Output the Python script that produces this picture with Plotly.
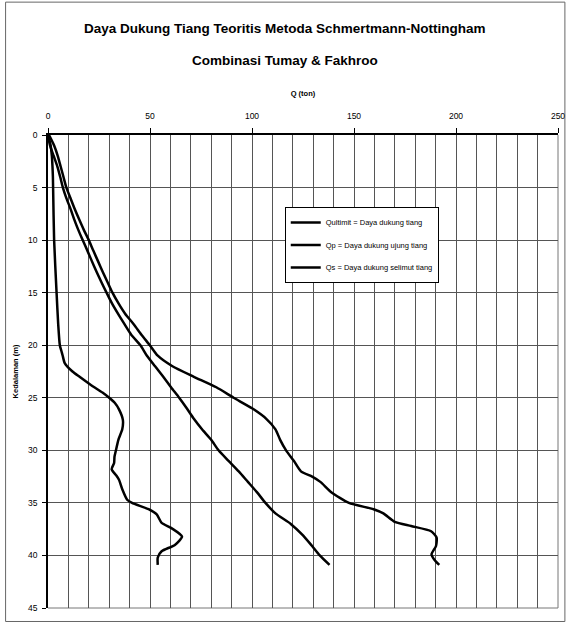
import plotly.graph_objects as go

# ---- data ----
qult_depth = [0, 1, 2, 3, 4, 5, 6, 7, 8, 9, 10, 11, 12, 13, 14, 15, 16, 17, 18, 19, 20, 21, 22, 23, 24, 25,
              26, 27, 28, 29, 30, 31, 32, 32.5, 33, 34, 35, 35.6, 36, 36.8, 37.2, 37.7, 38.3, 39.1, 39.9, 40.4, 40.9]
qult_val = [0.5, 3.0, 4.8, 6.2, 7.6, 9.0, 11.0, 13.0, 15.2, 17.5, 20.0, 22.2, 24.5, 26.8, 29.2, 31.6, 34.5, 37.8,
            42.0, 45.8, 49.9, 53.8, 61.0, 71.5, 82.5, 91.0, 100.0, 107.0, 111.5, 113.8, 116.7, 120.5, 124.0, 129.5,
            133.5, 139.0, 147.5, 159.6, 164.4, 170.0, 178.0, 187.8, 190.5, 190.2, 188.0, 189.4, 191.8]

qs_depth = [0, 1, 2, 3, 4, 5, 6, 7, 8, 9, 10, 11, 12, 13, 14, 15, 16, 17, 18, 19, 20, 21, 22, 23, 24, 25,
            26, 27, 28, 29, 30, 31, 32, 33, 34, 35, 36, 37, 38, 39, 40, 40.9]
qs_val = [0, 1.0, 2.8, 4.6, 6.0, 7.3, 9.0, 11.0, 12.8, 14.8, 17.0, 19.3, 21.5, 23.8, 26.2, 28.7, 31.3, 34.3,
          37.5, 40.8, 45.3, 48.5, 52.5, 56.5, 60.3, 64.3, 68.0, 71.5, 75.5, 80.0, 83.6, 88.5, 93.5, 98.0, 102.5,
          106.6, 111.5, 119.0, 124.5, 129.0, 133.2, 138.0]

qp_depth = [0, 0.5, 1, 2, 3, 4, 5, 10, 15, 18, 20, 20.5, 21, 21.7, 22.5, 23.0, 23.9, 24.5, 25.0, 25.5, 26.1,
            27.1, 28.0, 29.0, 30.0, 30.6, 31.2, 31.8, 32.4, 32.8, 33.7, 34.7, 35.0, 35.6, 36.1, 36.9, 37.4, 38.2,
            39.0, 39.6, 40.2, 40.9]
qp_val = [0, 0.7, 1.3, 1.9, 2.2, 2.4, 2.5, 3.0, 4.2, 5.0, 5.8, 6.5, 7.2, 8.2, 12.0, 15.5, 21.9, 26.7, 30.0,
          32.8, 34.8, 36.7, 36.4, 34.5, 33.3, 32.6, 32.4, 31.2, 33.5, 34.8, 36.4, 38.8, 41.2, 49.3, 53.3, 55.7,
          60.5, 65.7, 62.2, 55.7, 53.8, 53.8]

names = ["Qultimit = Daya dukung tiang", "Qp = Daya dukung ujung tiang", "Qs = Daya dukung selimut tiang"]

title1 = "Daya Dukung Tiang Teoritis Metoda Schmertmann-Nottingham"
title2 = "Combinasi Tumay & Fakhroo"
x_title = "Q (ton)"
y_title = "Kedalaman (m)"

FONT = "Liberation Sans, Arial, sans-serif"

fig = go.Figure()
for i, (xs, ys) in enumerate([(qult_val, qult_depth), (qp_val, qp_depth), (qs_val, qs_depth)]):
    fig.add_trace(go.Scatter(
        x=xs, y=ys, mode="lines", name=names[i], legendgroup=str(i),
        line=dict(color="black", width=2.5, shape="spline", smoothing=0.6),
    ))

W, H = 574, 623
L, R, T, B = 48, 9, 135, 14.5
pw, ph = W - L - R, H - T - B

def px(xp):
    return (xp - L) / pw

def py(yp):
    return (H - B - yp) / ph

fig.update_layout(
    width=W, height=H,
    margin=dict(l=L, r=R, t=T, b=B),
    paper_bgcolor="white", plot_bgcolor="white",
    font=dict(family=FONT, color="black", size=8.5),
    showlegend=True,
    legend=dict(
        x=px(288), y=py(207), xanchor="left", yanchor="top",
        bgcolor="white", bordercolor="black", borderwidth=1,
        font=dict(family=FONT, size=7.5, color="black"),
        tracegroupgap=3.5, itemwidth=30,
    ),
    xaxis=dict(
        side="top", range=[0, 250], dtick=50, tick0=0,
        showgrid=True, gridcolor="#555", gridwidth=1,
        minor=dict(dtick=10, showgrid=True, gridcolor="#555", gridwidth=1),
        showline=True, linecolor="black", linewidth=1.5,
        ticks="outside", ticklen=5, tickcolor="black",
        ticklabelstandoff=6,
        zeroline=False,
        title=dict(text="<b>" + x_title + "</b>", font=dict(size=7.5, family=FONT), standoff=13),
        tickfont=dict(size=8.5, family=FONT),
    ),
    yaxis=dict(
        range=[45, 0], dtick=5, tick0=0,
        showgrid=True, gridcolor="#555", gridwidth=1,
        showline=True, linecolor="black", linewidth=1.5,
        ticks="outside", ticklen=4, tickcolor="black",
        ticklabelstandoff=3,
        zeroline=False,
        title=dict(text="<b>" + y_title + "</b>", font=dict(size=7.5, family=FONT), standoff=8),
        tickfont=dict(size=8.5, family=FONT),
    ),
    annotations=[
        dict(text="<b>" + title1 + "</b>", xref="paper", yref="paper", x=px(288), y=py(28),
             xanchor="center", yanchor="middle", showarrow=False, font=dict(size=13.5, family=FONT)),
        dict(text="<b>" + title2 + "</b>", xref="paper", yref="paper", x=px(288), y=py(60),
             xanchor="center", yanchor="middle", showarrow=False, font=dict(size=13.5, family=FONT)),
    ],
    shapes=[
        dict(type="rect", xref="paper", yref="paper", x0=px(5), x1=px(572), y0=py(622), y1=py(2),
             line=dict(color="#666", width=1), layer="below"),
        dict(type="line", xref="paper", yref="paper", x0=1, x1=1, y0=0, y1=1,
             line=dict(color="#777", width=1), layer="below"),
        dict(type="line", xref="paper", yref="paper", x0=0, x1=1, y0=0, y1=0,
             line=dict(color="#777", width=1), layer="below"),
    ],
)

fig.write_html("out.html")
